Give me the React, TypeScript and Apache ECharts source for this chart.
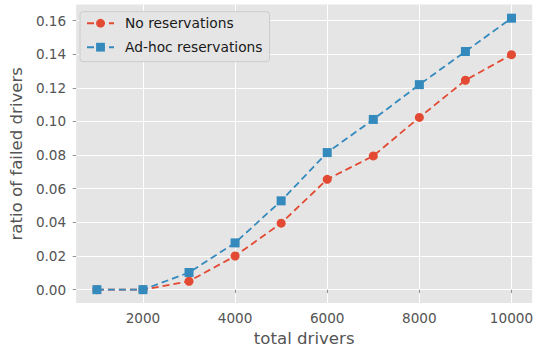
import React, { useEffect, useRef } from "react";
import * as echarts from "echarts";

const drivers = [1000, 2000, 3000, 4000, 5000, 6000, 7000, 8000, 9000, 10000];
const noReservations = [0, 0, 0.005, 0.02, 0.0395, 0.0656, 0.0795, 0.1024, 0.1245, 0.1397];
const adhocReservations = [0, 0, 0.0102, 0.0278, 0.0528, 0.0815, 0.1012, 0.1219, 0.1416, 0.1614];
const xTicks = [2000, 4000, 6000, 8000, 10000];
const yTicks = [0, 0.02, 0.04, 0.06, 0.08, 0.1, 0.12, 0.14, 0.16];
const seriesNames = ["No reservations", "Ad-hoc reservations"];
const xLabel = "total drivers";
const yLabel = "ratio of failed drivers";

const FONT = "DejaVu Sans";

export default function App() {
  const ref = useRef<HTMLDivElement>(null);
  useEffect(() => {
    if (!ref.current) return;
    const chart = echarts.init(ref.current, undefined, { renderer: "svg" });
    const pair = (ys: number[]) => drivers.map((x, i) => [x, ys[i]]);
    chart.setOption({
      animation: false,
      backgroundColor: "#ffffff",
      textStyle: { fontFamily: FONT },
      grid: {
        left: 74,
        right: 0.5,
        top: 4.4,
        bottom: 47.5,
        containLabel: false,
        show: true,
        backgroundColor: "#E5E5E5",
        borderWidth: 0,
      },
      legend: {
        left: 80,
        top: 11.7,
        orient: "vertical",
        data: seriesNames,
        backgroundColor: "#E5E5E5",
        borderColor: "#CCCCCC",
        borderWidth: 1,
        borderRadius: 3,
        padding: [4.5, 7, 7.5, 6],
        itemWidth: 27,
        itemHeight: 11,
        itemGap: 10,
        textStyle: { fontFamily: FONT, fontSize: 13.8, color: "#1a1a1a", padding: [0, 0, 0, 6] },
      },
      xAxis: {
        type: "value",
        min: 550,
        max: 10450,
        name: xLabel,
        nameLocation: "middle",
        nameGap: 25,
        nameTextStyle: { fontFamily: FONT, fontSize: 16.6, color: "#555555" },
        axisLine: { show: false },
        axisTick: {
          show: true,
          length: 3.5,
          lineStyle: { color: "#777777", width: 0.8 },
          customValues: xTicks,
        },
        axisLabel: {
          fontFamily: FONT,
          fontSize: 13.6,
          color: "#555555",
          margin: 8,
          customValues: xTicks,
          formatter: (v: number) => String(v),
        },
        splitLine: { show: true, lineStyle: { color: "#ffffff", width: 1 } },
      },
      yAxis: {
        type: "value",
        min: -0.008,
        max: 0.1696,
        name: yLabel,
        nameLocation: "middle",
        nameGap: 46,
        nameTextStyle: { fontFamily: FONT, fontSize: 16.6, color: "#555555" },
        axisLine: { show: false },
        axisTick: {
          show: true,
          length: 3.5,
          lineStyle: { color: "#777777", width: 0.8 },
          customValues: yTicks,
        },
        axisLabel: {
          fontFamily: FONT,
          fontSize: 13.6,
          color: "#555555",
          margin: 10,
          customValues: yTicks,
          formatter: (v: number) => v.toFixed(2),
        },
        splitLine: { show: true, lineStyle: { color: "#ffffff", width: 1 } },
      },
      series: [
        {
          name: seriesNames[0],
          type: "line",
          data: pair(noReservations),
          symbol: "circle",
          symbolSize: 9,
          color: "#E24A33",
          itemStyle: { color: "#E24A33" },
          lineStyle: { color: "#E24A33", width: 1.8, type: [7, 4] },
          z: 2,
        },
        {
          name: seriesNames[1],
          type: "line",
          data: pair(adhocReservations),
          symbol: "rect",
          symbolSize: 9,
          color: "#348ABD",
          itemStyle: { color: "#348ABD" },
          lineStyle: { color: "#348ABD", width: 1.8, type: [7, 4] },
          z: 3,
        },
      ],
    });
    return () => chart.dispose();
  }, []);
  return (
    <div
      ref={ref}
      style={{ position: "absolute", left: 0, top: 0, width: 536, height: 352 }}
    />
  );
}
